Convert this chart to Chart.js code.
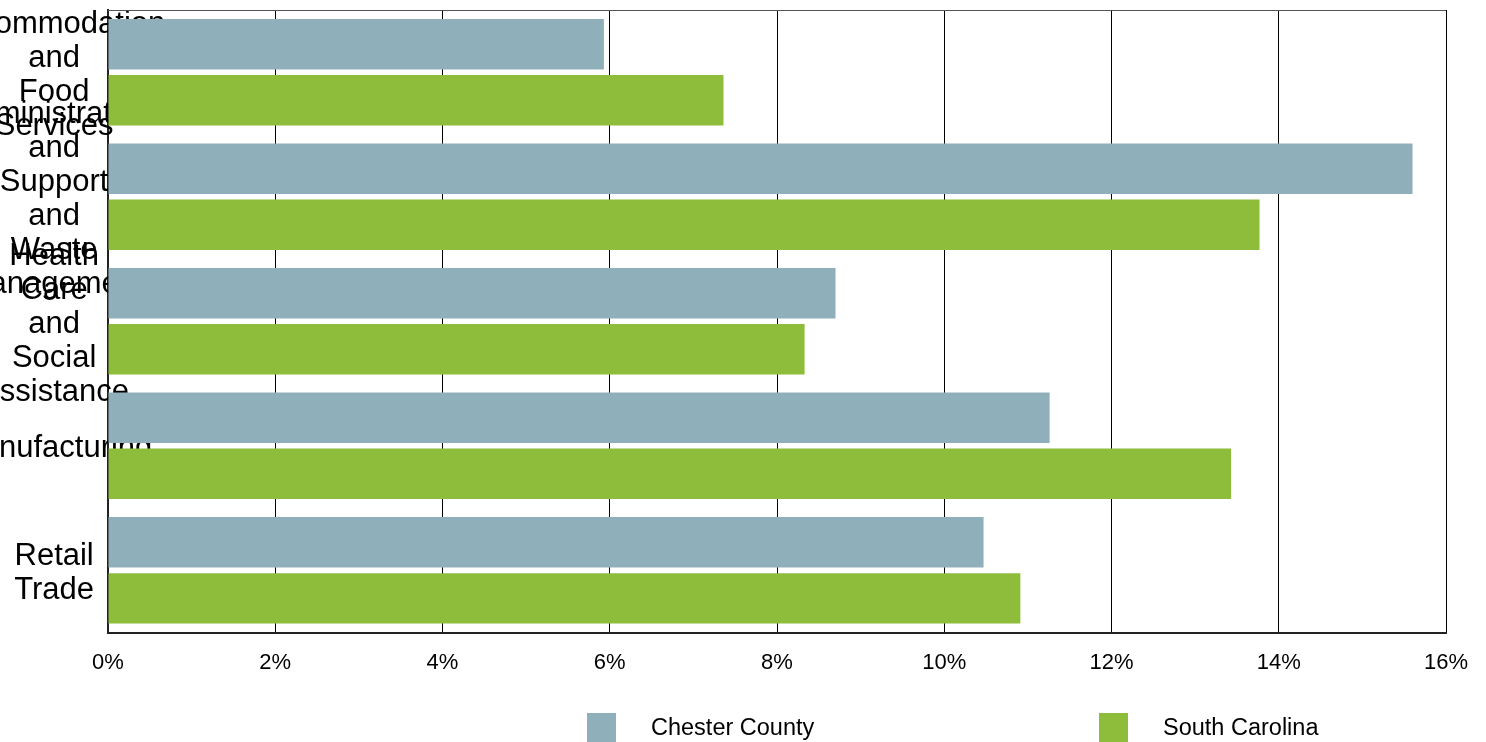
<!DOCTYPE html>
<html>
<head>
<meta charset="utf-8">
<script src="https://cdn.jsdelivr.net/npm/chart.js@4"></script>
<style>
  html, body { margin: 0; padding: 0; background: #fff; }
  #wrap { position: relative; width: 1486px; height: 742px; overflow: hidden; }
  #legend { position: absolute; top: 712px; left: 0; width: 1486px; height: 30px;
            font-family: "Liberation Sans", Arial, sans-serif; font-size: 23.5px; color: #000; }
  .item { position: absolute; top: 0; display: flex; align-items: center; height: 30px; }
  .box { width: 29px; height: 29px; margin-right: 35px; }
</style>
</head>
<body>
<div id="wrap">
  <canvas id="myChart" width="1486" height="742"></canvas>
  <div id="legend"></div>
</div>
<script>
const sectors = [
  ["Accommodation", "and", "Food", "Services"],
  ["Administrative", "and", "Support", "and", "Waste", "Management"],
  ["Health", "Care", "and", "Social", "Assistance"],
  ["Manufacturing"],
  ["Retail", "Trade"],
];
const chesterCounty = [5.93, 15.6, 8.7, 11.26, 10.47];
const southCarolina = [7.36, 13.77, 8.33, 13.43, 10.91];
const xTicks = [0, 2, 4, 6, 8, 10, 12, 14, 16];

const fontFamily = "'Liberation Sans', Arial, sans-serif";

// top edge of the plot frame
const frameTop = {
  id: "frameTop",
  beforeDatasetsDraw(chart) {
    const a = chart.chartArea;
    const c = chart.ctx;
    c.save();
    c.strokeStyle = "#555";
    c.lineWidth = 1;
    c.beginPath();
    c.moveTo(a.left, a.top + 0.5);
    c.lineTo(a.right, a.top + 0.5);
    c.stroke();
    c.restore();
  },
};

const ctx = document.getElementById("myChart").getContext("2d");
const myChart = new Chart(ctx, {
  type: "bar",
  data: {
    labels: sectors,
    datasets: [
      {
        label: "Chester County",
        data: chesterCounty,
        backgroundColor: "rgb(143, 175, 186)",
      },
      {
        label: "South Carolina",
        data: southCarolina,
        backgroundColor: "rgb(141, 189, 59)",
      },
    ],
  },
  options: {
    indexAxis: "y",
    responsive: false,
    animation: false,
    devicePixelRatio: 1,
    categoryPercentage: 0.9,
    barPercentage: 0.9,
    layout: { padding: { top: 10, right: 40, bottom: 49, left: 0 } },
    plugins: {
      legend: { display: false },
      tooltip: { enabled: false },
    },
    scales: {
      x: {
        min: 0,
        max: 16,
        afterBuildTicks: (scale) => {
          scale.ticks = xTicks.map((v) => ({ value: v }));
        },
        grid: { color: "#000", lineWidth: 1, drawTicks: false },
        border: { color: "#222", width: 2 },
        ticks: {
          padding: 17,
          color: "#000",
          font: { family: fontFamily, size: 22 },
          callback: (v) => v + "%",
        },
      },
      y: {
        grid: { display: false, drawTicks: false },
        border: { color: "#222", width: 2 },
        afterFit: (scale) => {
          scale.width = 108;
        },
        ticks: {
          autoSkip: false,
          mirror: true, // mirror keeps the long labels from being clipped to the axis box
          crossAlign: "center",
          padding: -165,
          labelOffset: 3,
          color: "#000",
          font: { family: fontFamily, size: 31, lineHeight: "34px" },
        },
      },
    },
  },
  plugins: [frameTop],
});

const legendBox = document.getElementById("legend");
const legendLeft = [587, 1099];
myChart.data.datasets.forEach((ds, i) => {
  const item = document.createElement("div");
  item.className = "item";
  item.style.left = legendLeft[i] + "px";
  const box = document.createElement("span");
  box.className = "box";
  box.style.background = ds.backgroundColor;
  const txt = document.createElement("span");
  txt.textContent = ds.label;
  item.appendChild(box);
  item.appendChild(txt);
  legendBox.appendChild(item);
});
</script>
</body>
</html>
